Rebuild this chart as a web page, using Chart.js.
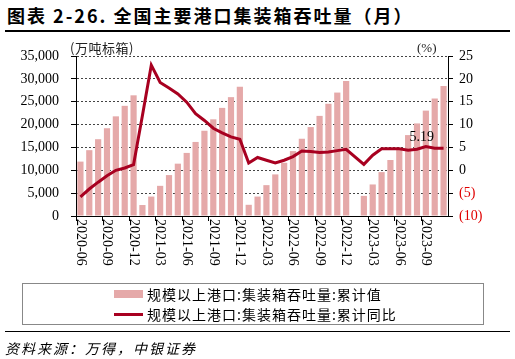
<!DOCTYPE html>
<html>
<head>
<meta charset="utf-8">
<script src="https://cdn.jsdelivr.net/npm/chart.js@4"></script>
<style>
  body { margin: 0; width: 515px; height: 359px; background: #fff; position: relative; overflow: hidden; }
  .abs { position: absolute; white-space: nowrap; }
  #title { left: 7px; top: 2px; font: bold 18px "Noto Sans CJK SC"; letter-spacing: 2px; color: #000; }
  .rule { position: absolute; left: 5px; width: 505px; background: #000; }
  #unitL { left: 70px; top: 38px; font: 13px "Noto Sans CJK SC"; letter-spacing: 0.5px; color: #222; }
  #unitR { left: 417px; top: 40px; font: 13px "Liberation Serif"; color: #222; }
  #legend { left: 22px; top: 283px; width: 460px; height: 40px; border: 1px solid #888; font: 14px "Noto Sans CJK SC"; letter-spacing: 1px; color: #000; }
  .row { position: absolute; left: 91px; display: flex; align-items: center; height: 18px; }
  .sw { width: 29px; margin-right: 4px; }
  #source { left: 5px; top: 338px; font: italic 14px "Noto Sans CJK SC"; letter-spacing: 2px; color: #000; }
</style>
</head>
<body>
<div id="title" class="abs">图表 2-26. 全国主要港口集装箱吞吐量（月）</div>
<div class="rule" style="top:30px;height:2px"></div>
<canvas id="myChart" width="515" height="359" style="position:absolute;left:0;top:0"></canvas>
<div id="unitL" class="abs">(万吨标箱)</div>
<div id="unitR" class="abs">(%)</div>
<div id="legend" class="abs">
  <div class="row" style="top:1px"><div class="sw" style="height:8px;background:#e5a9a9"></div>规模以上港口:集装箱吞吐量:累计值</div>
  <div class="row" style="top:21px"><div class="sw" style="height:3px;background:#a80020"></div>规模以上港口:集装箱吞吐量:累计同比</div>
</div>
<div class="rule" style="top:331px;height:1px"></div>
<div id="source" class="abs">资料来源：万得，中银证券</div>
<script>
// months on the x axis
let months = [
  '2020-06', '2020-07', '2020-08', '2020-09', '2020-10', '2020-11', '2020-12',
  '2021-01', '2021-02', '2021-03', '2021-04', '2021-05', '2021-06', '2021-07',
  '2021-08', '2021-09', '2021-10', '2021-11', '2021-12',
  '2022-01', '2022-02', '2022-03', '2022-04', '2022-05', '2022-06', '2022-07',
  '2022-08', '2022-09', '2022-10', '2022-11', '2022-12',
  '2023-01', '2023-02', '2023-03', '2023-04', '2023-05', '2023-06', '2023-07',
  '2023-08', '2023-09', '2023-10', '2023-11'
];

// cumulative throughput (万吨标箱)
let cumValue = [
  11900, 14400, 16800, 19200, 21800, 24100, 26400,
  2400, 4250, 6600, 8950, 11450, 13800, 16200,
  18650, 21150, 23650, 26000, 28300,
  2450, 4250, 6750, 9100, 11650, 14200, 16900,
  19450, 21900, 24550, 27000, 29550,
  null, 4400, 6900, 9600, 12250, 14900, 17700,
  20250, 23050, 25700, 28450
];

// cumulative yoy (%)
let cumYoy = [
  -5.8, -4.1, -2.6, -1.2, 0.0, 0.5, 1.25,
  12.0, 23.0, 19.2, 18.0, 16.7, 14.9, 12.4,
  10.9, 9.2, 8.2, 7.3, 6.8,
  1.6, 2.8, 2.2, 1.6, 2.2, 3.0, 4.2,
  4.1, 3.9, 4.0, 4.3, 4.6,
  null, 1.3, 3.3, 4.7, 4.7, 4.7, 4.4,
  4.6, 5.19, 4.8, 4.8
];

let labelIndex = 39; // point carrying the "5.19" label
let labelEvery = 3;

let serif = '"Liberation Serif", "DejaVu Serif", serif';

// draws rotated month labels and the value tag
let extras = {
  id: 'extras',
  afterDraw(chart) {
    let c = chart.ctx;
    let x = chart.scales.x;
    c.save();
    c.font = '14px ' + serif;
    c.fillStyle = '#000';
    c.textAlign = 'left';
    c.textBaseline = 'middle';
    for (let i = 0; i < months.length; i += labelEvery) {
      c.save();
      c.translate(x.getPixelForValue(i), x.bottom - 57);
      c.rotate(Math.PI / 2);
      c.fillText(months[i], 0, 0);
      c.restore();
    }
    let pt = chart.getDatasetMeta(0).data[labelIndex];
    c.textAlign = 'center';
    c.fillText(cumYoy[labelIndex].toFixed(2), pt.x - 4, pt.y - 9);
    c.restore();
  }
};

let ctx = document.getElementById('myChart').getContext('2d');

let myChart = new Chart(ctx, {
  data: {
    labels: months,
    datasets: [{
      type: 'line',
      label: '规模以上港口:集装箱吞吐量:累计同比',
      data: cumYoy,
      yAxisID: 'y2',
      borderColor: '#a80020',
      borderWidth: 3,
      pointRadius: 0,
      tension: 0,
      spanGaps: true,
      order: 0
    }, {
      type: 'bar',
      label: '规模以上港口:集装箱吞吐量:累计值',
      data: cumValue,
      yAxisID: 'y',
      backgroundColor: '#e5a9a9',
      borderWidth: 0,
      categoryPercentage: 1,
      barPercentage: 0.7,
      order: 1
    }]
  },
  options: {
    responsive: false,
    animation: false,
    layout: { padding: { left: 0, right: 0, top: 56, bottom: 83 } },
    plugins: { legend: { display: false }, tooltip: { enabled: false } },
    scales: {
      x: {
        offset: true,
        ticks: { display: false },
        grid: {
          offset: true,
          drawOnChartArea: false,
          tickLength: 5,
          color: (c) => (c.index % labelEvery === 0 ? '#000' : 'rgba(0,0,0,0)')
        },
        border: { color: '#000', width: 1 },
        afterFit: (s) => { s.height = 60; }
      },
      y: {
        position: 'left',
        min: 0,
        max: 35000,
        ticks: {
          stepSize: 5000,
          padding: 12,
          color: '#000',
          font: { family: serif, size: 14 },
          callback: (v) => v.toLocaleString('en-US')
        },
        grid: { color: '#444', tickLength: 5, tickColor: '#000', tickBorderDash: [] },
        border: { color: '#000', width: 1, dash: [2, 2] },
        afterFit: (s) => { s.width = 76; }
      },
      y2: {
        position: 'right',
        min: -10,
        max: 25,
        ticks: {
          stepSize: 5,
          padding: 6,
          color: (c) => (c.tick.value < 0 ? '#e00000' : '#000'),
          font: { family: serif, size: 14 },
          callback: (v) => (v < 0 ? '(' + (-v) + ')' : v)
        },
        grid: { drawOnChartArea: false, tickLength: 5, color: '#000' },
        border: { color: '#000', width: 1 },
        afterFit: (s) => { s.width = 67; }
      }
    }
  },
  plugins: [extras]
});
</script>
</body>
</html>
